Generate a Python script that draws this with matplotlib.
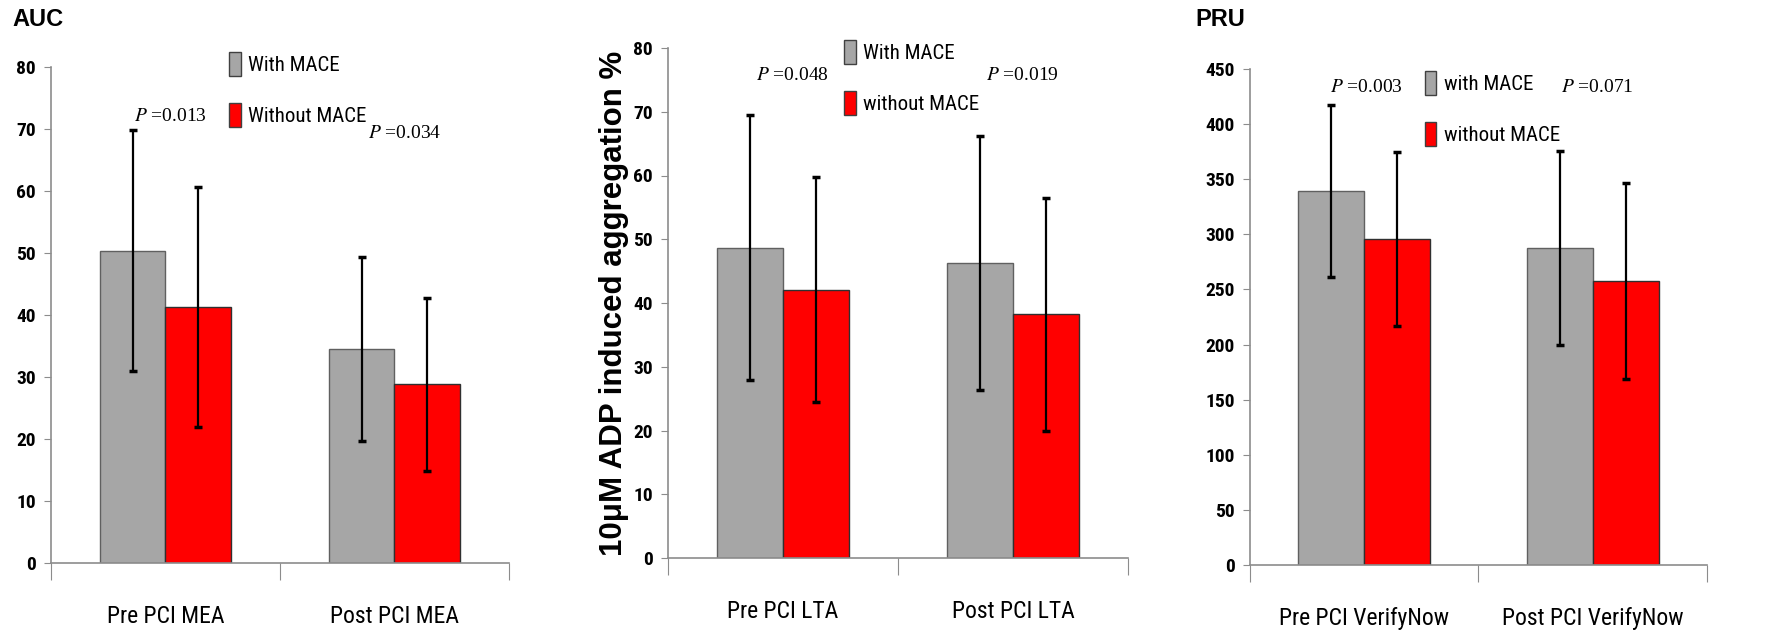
import matplotlib
matplotlib.use("Agg")
import matplotlib.pyplot as plt
from matplotlib.patches import Patch
from matplotlib import font_manager
import numpy as np

# ---------------- data ----------------
auc_categories = ["Pre PCI MEA", "Post PCI MEA"]
auc_with = [50.4, 34.5]
auc_with_sd = [19.4, 14.8]
auc_without = [41.3, 28.8]
auc_without_sd = [19.4, 14.0]
auc_p = ["0.013", "0.034"]
auc_legend = ["With MACE", "Without MACE"]

lta_categories = ["Pre PCI LTA", "Post PCI LTA"]
lta_with = [48.7, 46.3]
lta_with_sd = [20.8, 19.9]
lta_without = [42.1, 38.2]
lta_without_sd = [17.7, 18.3]
lta_p = ["0.048", "0.019"]
lta_legend = ["With MACE", "without MACE"]

pru_categories = ["Pre PCI VerifyNow", "Post PCI VerifyNow"]
pru_with = [339, 288]
pru_with_sd = [78, 88]
pru_without = [296, 258]
pru_without_sd = [79, 89]
pru_p = ["0.003", "0.071"]
pru_legend = ["with MACE", "without MACE"]

GRAY = "#A6A6A6"
RED = "#FF0000"
AXC = "#8C8C8C"

installed = {f.name for f in font_manager.fontManager.ttflist}
NARROW = [f for f in ["Roboto Condensed", "Open Sans Condensed", "Liberation Sans Narrow"]
          if f in installed] + ["Liberation Sans", "DejaVu Sans"]
SANSB = ["Liberation Sans", "DejaVu Sans"]
SERIF = ["Liberation Serif", "DejaVu Serif"]
plt.rcParams["mathtext.fontset"] = "stix"

W, H = 1790, 635
fig = plt.figure(figsize=(W / 100, H / 100), dpi=100)


def px_axes(x0, x1, ybot, ytop):
    return fig.add_axes([x0 / W, 1 - ybot / H, (x1 - x0) / W, (ybot - ytop) / H])


def draw(ax, cats, w, wsd, wo, wosd, pvals, ppos, ymax, ystep, legend, leg_anchor):
    n = len(cats)
    centers = np.arange(n) + 0.5
    bw = 0.288
    ax.bar(centers - bw / 2, w, bw, color=GRAY, edgecolor="#606060", linewidth=1, zorder=2)
    ax.bar(centers + bw / 2, wo, bw, color=RED, edgecolor="#303030", linewidth=1, zorder=2)
    ekw = dict(fmt="none", ecolor="black", elinewidth=1.6, capsize=3, capthick=2.5, zorder=3)
    ax.errorbar(centers - bw / 2, w, yerr=wsd, **ekw)
    ax.errorbar(centers + bw / 2, wo, yerr=wosd, **ekw)
    ax.set_xlim(0, n)
    ax.set_ylim(0, ymax)
    ax.set_yticks(np.arange(0, ymax + 1, ystep))
    ax.set_xticks(np.arange(0, n + 1))
    ax.set_xticklabels([])
    ax.set_xticks(centers, minor=True)
    ax.set_xticklabels(cats, minor=True, fontsize=17, family=NARROW)
    ax.tick_params(axis="x", which="major", length=12, color=AXC, direction="out")
    ax.tick_params(axis="x", which="minor", length=0, pad=30)
    ax.tick_params(axis="y", length=5, color=AXC, labelsize=14, pad=6)
    for lab in ax.get_yticklabels():
        lab.set_family(NARROW)
        lab.set_fontweight("bold")
    for s in ["top", "right"]:
        ax.spines[s].set_visible(False)
    for s in ["left", "bottom"]:
        ax.spines[s].set_color(AXC)
        ax.spines[s].set_linewidth(1.2)
    for (xp, yp), pv in zip(ppos, pvals):
        ax.text(xp, yp, r"$\it{P}$ =" + pv, ha="center", va="center",
                fontsize=14, family=SERIF, zorder=4)
    handles = [Patch(facecolor=GRAY, edgecolor="#404040", linewidth=1, label=legend[0]),
               Patch(facecolor=RED, edgecolor="#404040", linewidth=1, label=legend[1])]
    ax.legend(handles=handles, loc="upper left", bbox_to_anchor=leg_anchor, frameon=False,
              prop={"family": NARROW, "size": 15}, handlelength=0.55, handleheight=1.4,
              handletextpad=0.35, labelspacing=1.3, borderpad=0, borderaxespad=0)


ax1 = px_axes(51, 509, 563, 67)
draw(ax1, auc_categories, auc_with, auc_with_sd, auc_without, auc_without_sd,
     auc_p, [(0.52, 72), (1.546, 69.3)], 80, 10, auc_legend, (0.389, 1.03))

ax2 = px_axes(668, 1128, 558, 48)
draw(ax2, lta_categories, lta_with, lta_with_sd, lta_without, lta_without_sd,
     lta_p, [(0.54, 75.7), (1.54, 75.7)], 80, 10, lta_legend, (0.383, 1.016))
ax2.set_ylabel("10μM ADP induced aggregation %", fontsize=22.5, fontweight="bold",
               family=SANSB, labelpad=3)

ax3 = px_axes(1250, 1707, 565, 69)
draw(ax3, pru_categories, pru_with, pru_with_sd, pru_without, pru_without_sd,
     pru_p, [(0.51, 433.6), (1.52, 433.6)], 450, 50, pru_legend, (0.383, 0.996))

fig.text(12 / W, 1 - 20 / H, "AUC", fontsize=17, fontweight="bold",
         family=SANSB, ha="left", va="center")
fig.text(1195 / W, 1 - 20 / H, "PRU", fontsize=17, fontweight="bold",
         family=SANSB, ha="left", va="center")

fig.savefig("out.png", dpi=100, facecolor="white")
